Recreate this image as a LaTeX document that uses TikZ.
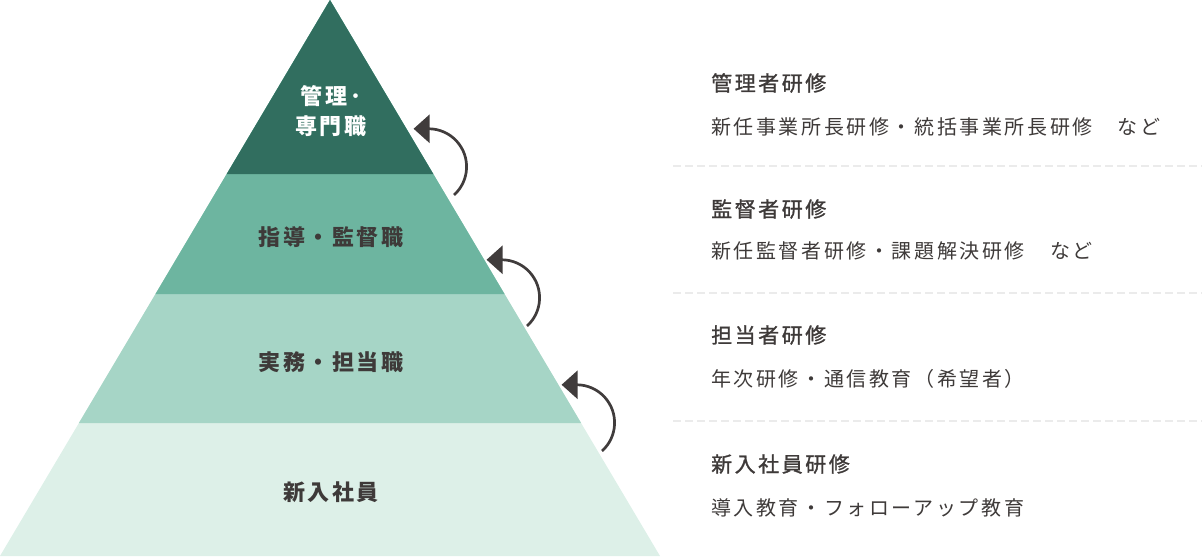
\documentclass[tikz,border=0pt]{standalone}
\usepackage{fontspec}
\usetikzlibrary{arrows.meta}
\newfontfamily\jplabel{Noto Sans CJK JP}[LetterSpace=12]
\newfontfamily\jphead{Noto Sans CJK JP}[LetterSpace=12, FakeBold=1.2]
\newfontfamily\jpsub{Noto Sans CJK JP}[LetterSpace=13]
\definecolor{lvA}{HTML}{316E5F}
\definecolor{lvB}{HTML}{6DB5A0}
\definecolor{lvC}{HTML}{A6D5C6}
\definecolor{lvD}{HTML}{DDF0E8}
\definecolor{txt}{HTML}{3E3A39}
\definecolor{arrowc}{HTML}{403C3C}
\definecolor{dashc}{HTML}{EBEBEB}
\tikzset{
  lbl/.style={inner sep=0pt, align=center, text=txt, font=\jplabel\bfseries\fontsize{22}{30}\selectfont},
  head/.style={inner sep=0pt, anchor=west, text=txt, font=\jphead\fontsize{21}{24}\selectfont},
  sub/.style={inner sep=0pt, anchor=west, text=txt, font=\jpsub\fontsize{20}{24}\selectfont},
  sepline/.style={draw=dashc, line width=2pt, dash pattern=on 8pt off 4pt},
  uparrow/.style={draw=arrowc, line width=2.7pt, -{Triangle[length=16pt,width=28pt]}},
}
\begin{document}
\begin{tikzpicture}[x=1pt,y=-1pt]
\useasboundingbox (0,0) rectangle (1202,557);
% pyramid layers (overlapping to avoid seams)
\fill[lvD] (330,0) -- (660,556) -- (0,556) -- cycle;
\fill[lvC] (330,0) -- (581.1,423) -- (78.9,423) -- cycle;
\fill[lvB] (330,0) -- (504.5,294) -- (155.5,294) -- cycle;
\fill[lvA] (330,0) -- (433.3,174) -- (226.7,174) -- cycle;
% pyramid labels
\node[lbl, text=white] (p1) at (331,111) {管理･\\専門職};
\node[lbl] (p2) at (331,237) {指導・監督職};
\node[lbl] (p3) at (331,362) {実務・担当職};
\node[lbl] (p4) at (331,492) {新入社員};
% arrows
\coordinate (t1) at (454,195);
\coordinate (t2) at (527,326);
\coordinate (t3) at (602,451);
\draw[uparrow] (t1) arc[start angle=-48, end angle=90, radius=38pt] -- ++(-15,0);
\draw[uparrow] (t2) arc[start angle=-48, end angle=90, radius=38pt] -- ++(-15,0);
\draw[uparrow] (t3) arc[start angle=-48, end angle=90, radius=38pt] -- ++(-15,0);
% right column
\node[head] (h1) at (711,83) {管理者研修};
\node[sub]  (s1) at (711,127) {新任事業所長研修・統括事業所長研修　など};
\draw[sepline] (673,166) -- (1202,166);
\node[head] (h2) at (711,209) {監督者研修};
\node[sub]  (s2) at (711,251) {新任監督者研修・課題解決研修　など};
\draw[sepline] (673,293) -- (1202,293);
\node[head] (h3) at (711,335) {担当者研修};
\node[sub]  (s3) at (711,379) {年次研修・通信教育（希望者）};
\draw[sepline] (673,421) -- (1202,421);
\node[head] (h4) at (711,464) {新入社員研修};
\node[sub]  (s4) at (711,508) {導入教育・フォローアップ教育};
\end{tikzpicture}
\end{document}
